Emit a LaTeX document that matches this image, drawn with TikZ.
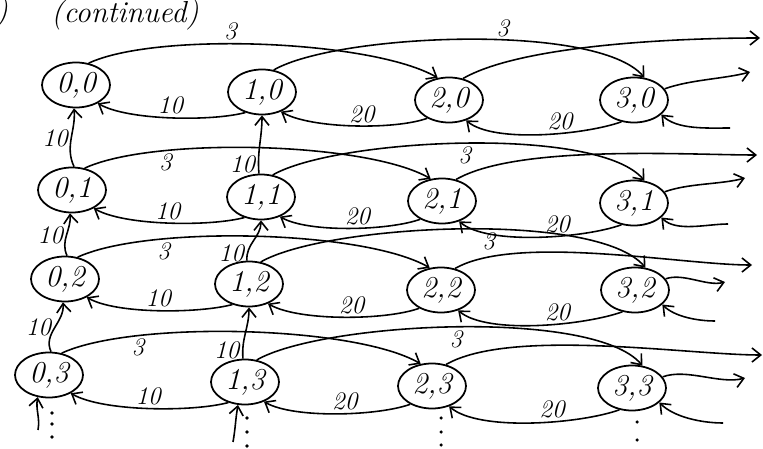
\documentclass[tikz,border=0pt]{standalone}
\usepackage{tikz}
\usetikzlibrary{shapes.geometric,arrows.meta,positioning}
\tikzset{
    state/.style={ellipse, draw, line width=1pt, minimum width=1.36cm, minimum height=0.9cm, inner sep=0pt, font=\LARGE\itshape},
    edge/.style={line width=0.9pt, -{Straight Barb[length=5pt,width=8pt]}},
    lbl/.style={font=\Large\itshape, inner sep=1.5pt},
    dot/.style={circle, fill, inner sep=0pt, minimum size=2pt},
}
\begin{document}
\begin{tikzpicture}[x=0.02cm, y=0.02cm]
    \useasboundingbox (0,0) rectangle (763,449);
    % Heading
    \node[font=\LARGE\itshape] (cut) at (2,436) {)};
    \node[font=\LARGE\itshape] (head) at (125,434) {(continued)};

    % States (i,j)
    \foreach \i/\j/\x/\y in {0/0/76/364, 1/0/262/357, 2/0/449/349, 3/0/634/349,
                             0/1/72/259,  1/1/261/252, 2/1/442/248, 3/1/634/246,
                             0/2/65/170,  1/2/249/165, 2/2/441/159, 3/2/635/159,
                             0/3/49/74,   1/3/245/67,  2/3/432/63,  3/3/632/61}
        \node[state] (s\i\j) at (\x,\y) {\i,\j};

    % Loose ends on the right
    \foreach \j/\xa/\ya/\xb/\yb/\xc/\yc in {0/760/411/750/377/730/321,
                                           1/757/294/745/271/728/225,
                                           2/752/184/725/167/715/128,
                                           3/762/94/745/71/723/26} {
        \coordinate (oa\j) at (\xa,\ya);
        \coordinate (ob\j) at (\xb,\yb);
        \coordinate (in\j) at (\xc,\yc);
    }
    \coordinate (b0) at (38,19);
    \coordinate (b1) at (233,7);

    % Rows
    \foreach \j/\side/\pa/\pb in {0/above/0.42/0.58, 1/below/0.27/0.5,
                                  2/below/0.28/0.56, 3/below/0.25/0.5} {
        \draw[edge] (s0\j.60) to[out=25,in=150,looseness=0.55] node[lbl,pos=\pa,\side] {3} (s2\j.117);
        \draw[edge] (s1\j.62) to[out=30,in=130,looseness=0.5] node[lbl,pos=\pb,\side] {3} (s3\j.65);
        \draw[edge] (s2\j.57) to[out=30,in=180,looseness=0.6] (oa\j);
        \draw[edge] (s3\j.20) to[out=20,in=195,looseness=0.8] (ob\j);
        \draw[edge] (in\j) to[out=180,in=-45,looseness=0.8] (s3\j.-28);
        \draw[edge] (s1\j.231) to[out=195,in=-30,looseness=0.6] node[lbl,above] {10} (s0\j.-40);
        \draw[edge] (s2\j.220) to[out=200,in=-30,looseness=0.6] node[lbl,above,pos=0.45] {20} (s1\j.-46);
        \draw[edge] (s3\j.240) to[out=200,in=-40,looseness=0.6] node[lbl,above,pos=0.4] {20} (s2\j.-50);
    }

    % Columns
    \foreach \j/\k in {0/1,1/2,2/3} {
        \draw[edge] (s0\k.85) to[out=115,in=-85] node[lbl,left] {10} (s0\j.-95);
        \draw[edge] (s1\k.95) to[out=95,in=-90] node[lbl,left,pos=0.15] {10} (s1\j.-90);
    }

    % Bottom
    \draw[edge] (b0) to[out=80,in=-100] (s03.-117);
    \draw[edge] (b1) to[out=80,in=-100] (s13.-107);
    \foreach \x/\y in {52/36, 52/25, 52/12, 247/31, 247/17, 247/3,
                       441/31, 441/17, 441/4, 637/27, 637/9}
        \node[dot] at (\x,\y) {};
\end{tikzpicture}
\end{document}
